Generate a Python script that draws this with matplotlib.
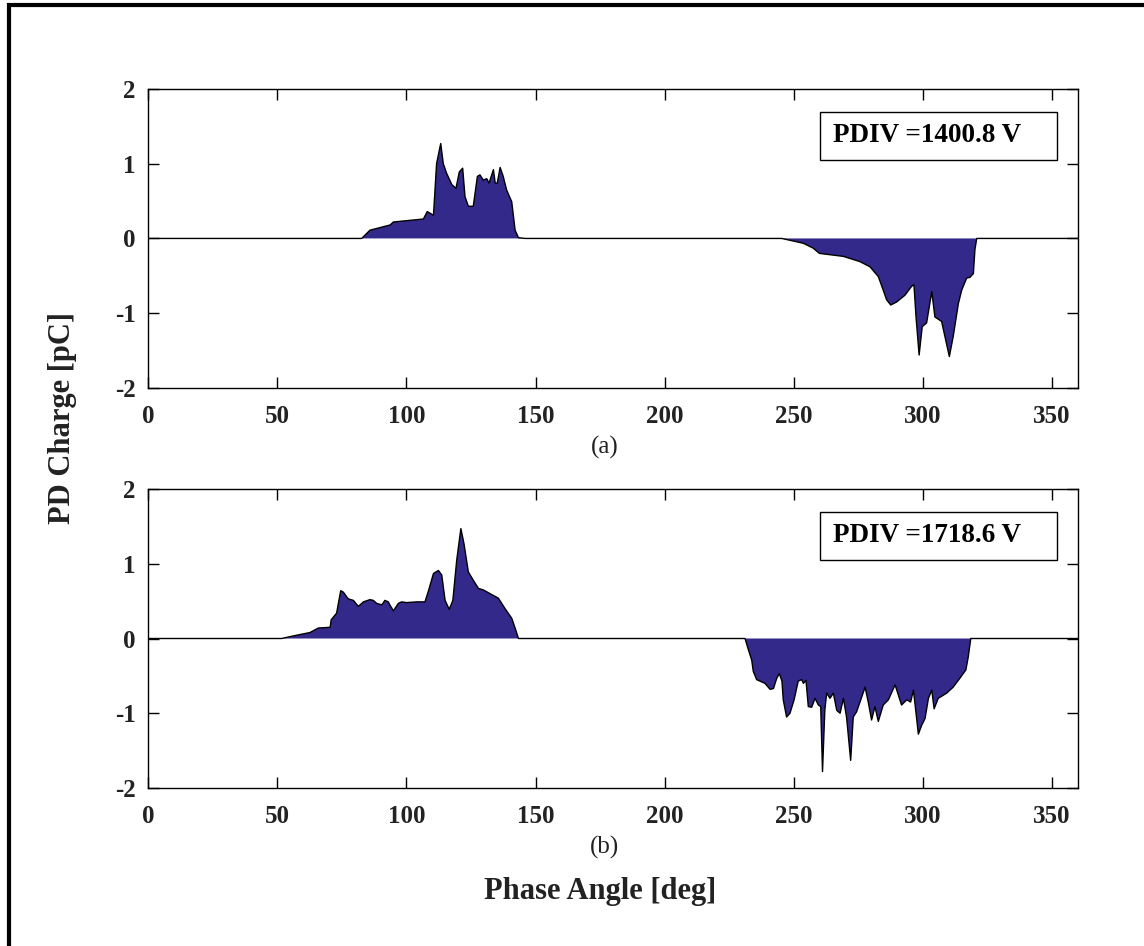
import numpy as np
import matplotlib
matplotlib.use('Agg')
import matplotlib.pyplot as plt
from matplotlib.patches import Rectangle

## data (phase angle [deg], PD charge [pC])
top_x = [0, 82.7, 85.9, 93.7, 95.0, 106.6, 108.1, 110.5, 111.7, 113.3, 114.3, 115.6,
         117.6, 119.2, 120.5, 121.8, 122.7, 124.0, 125.9, 127.5, 128.5, 129.8, 131.1,
         132.0, 133.7, 134.4, 135.2, 136.3, 137.5, 138.8, 140.8, 142.1, 143.4, 146.0,
         245.3, 253.7, 257.5, 259.9, 269.2, 275.6, 279.5, 282.7, 284.6, 285.9, 287.5,
         289.8, 293.0, 295.6, 296.5, 297.3, 298.5, 299.7, 301.4, 303.4, 304.6, 307.2,
         310.2, 311.7, 313.7, 315.0, 316.9, 318.2, 319.5, 320.1, 320.8, 360]
top_y = [0, 0, 0.11, 0.18, 0.22, 0.26, 0.36, 0.31, 1.00, 1.27, 1.00, 0.87,
         0.72, 0.67, 0.89, 0.94, 0.56, 0.43, 0.43, 0.83, 0.85, 0.78, 0.80,
         0.74, 0.92, 0.74, 0.74, 0.95, 0.83, 0.65, 0.49, 0.11, 0.01, 0,
         0, -0.065, -0.13, -0.20, -0.24, -0.31, -0.38, -0.51, -0.69, -0.82, -0.89,
         -0.85, -0.76, -0.64, -0.62, -1.05, -1.56, -1.18, -1.13, -0.71, -1.05, -1.11,
         -1.58, -1.31, -0.87, -0.69, -0.53, -0.52, -0.47, -0.15, 0, 0]

bot_x = [0, 51.7, 56.3, 62.7, 65.9, 70.5, 70.9, 73.0, 74.6, 75.6, 77.5, 79.5, 81.4,
         83.4, 85.9, 87.2, 88.5, 90.5, 91.7, 93.0, 93.6, 95.0, 96.9, 98.2, 100.1,
         104.0, 107.2, 108.5, 110.5, 112.4, 113.7, 115.0, 116.6, 118.0, 119.5, 121.1,
         122.3, 124.0, 125.9, 127.9, 129.8, 132.4, 135.6, 138.2, 140.8, 142.1, 143.4,
         231.1, 232.4, 233.7, 234.3, 235.6, 238.8, 240.8, 242.1, 243.4, 244.4, 245.4,
         245.9, 247.2, 248.5, 250.1, 251.7, 253.0, 253.7, 254.7, 255.6, 256.9, 258.2,
         259.5, 260.4, 261.1, 262.0, 262.7, 264.0, 265.3, 266.6, 267.9, 269.2, 270.4,
         272.0, 273.0, 274.3, 276.3, 277.6, 278.8, 280.1, 281.4, 282.7, 284.6, 286.6,
         289.2, 291.7, 293.7, 295.2, 296.3, 297.6, 298.2, 299.5, 300.8, 302.1, 303.4,
         304.3, 305.9, 309.2, 311.7, 314.3, 316.6, 317.5, 318.5, 360]
bot_y = [0, 0, 0.035, 0.08, 0.14, 0.15, 0.25, 0.34, 0.64, 0.62, 0.53, 0.51, 0.43,
         0.49, 0.52, 0.51, 0.47, 0.45, 0.51, 0.49, 0.45, 0.37, 0.47, 0.49, 0.48,
         0.49, 0.49, 0.63, 0.87, 0.91, 0.85, 0.51, 0.39, 0.51, 1.05, 1.47,
         1.27, 0.89, 0.78, 0.67, 0.65, 0.60, 0.54, 0.40, 0.27, 0.14, 0,
         0, -0.15, -0.29, -0.44, -0.55, -0.60, -0.68, -0.67, -0.53, -0.47, -0.57,
         -0.82, -1.05, -1.00, -0.82, -0.57, -0.55, -0.60, -0.56, -0.91, -0.92, -0.80,
         -0.89, -0.91, -1.78, -0.96, -0.73, -0.80, -0.73, -0.96, -1.00, -0.80, -1.05,
         -1.63, -1.05, -0.98, -0.78, -0.65, -0.85, -1.09, -0.91, -1.11, -0.89, -0.82,
         -0.62, -0.89, -0.82, -0.85, -0.69, -1.09, -1.28, -1.16, -1.07, -0.80, -0.69,
         -0.94, -0.80, -0.73, -0.65, -0.53, -0.42, -0.25, 0, 0]

panels = ['(a)', '(b)']
pdiv = ['PDIV =1400.8 V', 'PDIV =1718.6 V']
xticks = [0, 50, 100, 150, 200, 250, 300, 350]
yticks = [-2, -1, 0, 1, 2]

plt.rcParams['font.family'] = ['Liberation Serif', 'DejaVu Serif']
plt.rcParams['font.weight'] = 'bold'
plt.rcParams['axes.unicode_minus'] = False
txtc = '#222222'
fillc = '#33298a'

fig = plt.figure(figsize=(11.44, 9.46), dpi=100)
ax1 = fig.add_axes([0.1294, 0.5899, 0.8129, 0.3161])
ax2 = fig.add_axes([0.1294, 0.1670, 0.8129, 0.3161])

for ax, xx, yy, lab, pv in zip((ax1, ax2), (top_x, bot_x), (top_y, bot_y), panels, pdiv):
    xx = np.array(xx)
    yy = np.array(yy)
    ax.fill_between(xx, yy, 0, facecolor=fillc, edgecolor='none')
    ax.plot(xx, yy, color='black', linewidth=1.0)
    ax.set_xlim(0, 360)
    ax.set_ylim(-2, 2)
    ax.set_xticks(xticks)
    ax.set_yticks(yticks)
    ax.tick_params(direction='in', length=8, width=1, top=True, right=True,
                   labelsize=18, colors=txtc)
    ax.tick_params(axis='x', pad=12)
    ax.tick_params(axis='y', pad=9)
    ax.tick_params(color='black')
    for sp in ax.spines.values():
        sp.set_linewidth(1.0)
    ax.text(0.491, -0.2, lab, transform=ax.transAxes, ha='center', va='center',
            fontsize=18, fontweight='normal', color=txtc)
    ax.add_patch(Rectangle((0.7226, 0.761), 0.2548, 0.162, transform=ax.transAxes,
                           facecolor='white', edgecolor='black', linewidth=1.0, zorder=5))
    ax.text(0.7366, 0.843, pv, transform=ax.transAxes, ha='left', va='center',
            fontsize=19.5, fontweight='bold', color='black', zorder=6)

fig.text(0.0546, 0.558, 'PD Charge [pC]', rotation=90, ha='center', va='center',
         fontsize=22, fontweight='bold', color=txtc)
fig.text(0.525, 0.058, 'Phase Angle [deg]', ha='center', va='center',
         fontsize=22, fontweight='bold', color=txtc)

# outer frame (cut at right/bottom edges like the reference)
fig.patches.append(Rectangle((8.5 / 1144, -0.05), 1.2, 0.05 + (1 - 5.5 / 946),
                             transform=fig.transFigure, fill=False,
                             edgecolor='black', linewidth=3.0))

plt.savefig('out.png', dpi=100)
